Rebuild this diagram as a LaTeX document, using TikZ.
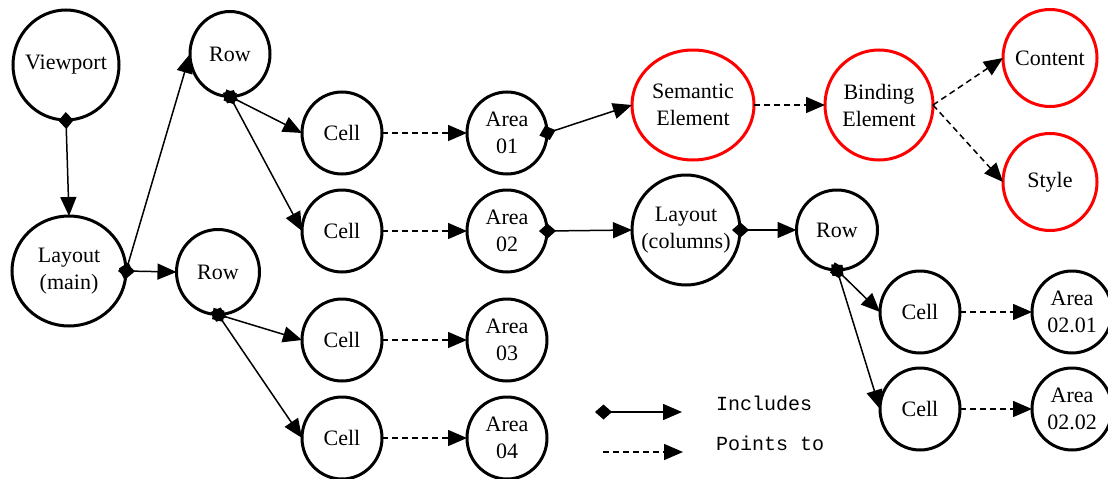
\documentclass[tikz,border=0pt]{standalone}
\usepackage{fontspec}
\setmainfont{Liberation Serif}
\newfontfamily\legendfont{Liberation Mono}
\usetikzlibrary{arrows.meta,shapes.geometric}
\begin{document}
\begin{tikzpicture}[x=1pt,y=-1pt,
  bub/.style={ellipse, draw=black, line width=3pt, inner sep=0pt, outer sep=0pt},
  rbub/.style={bub, draw=red},
  sz/.style 2 args={minimum width=#1pt, minimum height=#2pt},
  txt/.style={inner sep=0pt, align=center, font=\fontsize{22}{27}\selectfont},
  leg/.style={inner sep=0pt, anchor=west, font=\legendfont\fontsize{20}{24}\selectfont},
  inc/.style={line width=1.5pt, shorten <=-8pt, {Diamond[length=17pt,width=15pt]}-{Triangle[length=19pt,width=16pt]}},
  pto/.style={line width=1.5pt, dash pattern=on 6pt off 4pt, -{Triangle[length=19pt,width=16pt]}},
]
\useasboundingbox (0,0) rectangle (1108,479);
\fill[white] (0,0) rectangle (1108,479);

% left column
\node[bub, sz={106}{110}, label={[txt]center:Viewport}] (vp) at (66,65) {};
\node[bub, sz={114}{110}, label={[txt]center:Layout\\(main)}] (lm) at (69,271) {};
\node[bub, sz={80}{85}, label={[txt]center:Row}] (r1) at (230,54) {};
\node[bub, sz={83}{85}, label={[txt]center:Row}] (r2) at (218,272) {};

% cells and areas
\node[bub, sz={80}{82}, label={[txt]center:Cell}] (c1) at (342,133) {};
\node[bub, sz={80}{82}, label={[txt]center:Cell}] (c2) at (342,231) {};
\node[bub, sz={80}{82}, label={[txt]center:Cell}] (c3) at (342,340) {};
\node[bub, sz={80}{82}, label={[txt]center:Cell}] (c4) at (342,438) {};
\node[bub, sz={80}{82}, label={[txt]center:Area\\01}] (a1) at (507,133) {};
\node[bub, sz={80}{82}, label={[txt]center:Area\\02}] (a2) at (507,231) {};
\node[bub, sz={80}{82}, label={[txt]center:Area\\03}] (a3) at (507,340) {};
\node[bub, sz={80}{82}, label={[txt]center:Area\\04}] (a4) at (507,438) {};

% red
\node[rbub, sz={122}{110}, label={[txt]center:Semantic\\Element}] (sem) at (693,105) {};
\node[rbub, sz={108}{110}, label={[txt]center:Binding\\Element}] (bind) at (879,105) {};
\node[rbub, sz={94}{97}, label={[txt]center:Content}] (cont) at (1050,58) {};
\node[rbub, sz={94}{97}, label={[txt]center:Style}] (sty) at (1050,182) {};

% right part
\node[bub, sz={108}{110}, label={[txt]center:Layout\\(columns)}] (lc) at (686,230) {};
\node[bub, sz={81}{80}, label={[txt]center:Row}] (r3) at (837,230) {};
\node[bub, sz={80}{82}, label={[txt]center:Cell}] (c5) at (920,312) {};
\node[bub, sz={80}{82}, label={[txt]center:Cell}] (c6) at (920,409) {};
\node[bub, sz={80}{82}, label={[txt]center:Area\\02.01}] (a5) at (1072,312) {};
\node[bub, sz={80}{82}, label={[txt]center:Area\\02.02}] (a6) at (1072,409) {};

% includes
\draw[inc] (vp.south) -- (lm.north);
\draw[inc] (lm.east) -- (r1.west);
\draw[inc] (lm.east) -- (r2.west);
\draw[inc] (r1.south) -- (c1.west);
\draw[inc] (r1.south) -- (c2.west);
\draw[inc] (r2.south) -- (c3.west);
\draw[inc] (r2.south) -- (c4.west);
\draw[inc] (a1.east) -- (sem.west);
\draw[inc] (a2.east) -- (lc.west);
\draw[inc] (lc.east) -- (r3.west);
\draw[inc] (r3.south) -- (c5.west);
\draw[inc] (r3.south) -- (c6.west);

% points to
\draw[pto] (c1.east) -- (a1.west);
\draw[pto] (c2.east) -- (a2.west);
\draw[pto] (c3.east) -- (a3.west);
\draw[pto] (c4.east) -- (a4.west);
\draw[pto] (c5.east) -- (a5.west);
\draw[pto] (c6.east) -- (a6.west);
\draw[pto] (sem.east) -- (bind.west);
\draw[pto] (bind.east) -- (cont.west);
\draw[pto] (bind.east) -- (sty.west);

% legend
\coordinate (l1a) at (595,412);
\coordinate (l1b) at (682,412);
\coordinate (l2a) at (603,452);
\coordinate (l2b) at (683,452);
\draw[inc, shorten <=0pt] (l1a) -- (l1b);
\draw[pto] (l2a) -- (l2b);
\node[leg] (linc) at (716,403) {Includes};
\node[leg] (lpts) at (716,443) {Points to};
\end{tikzpicture}
\end{document}
